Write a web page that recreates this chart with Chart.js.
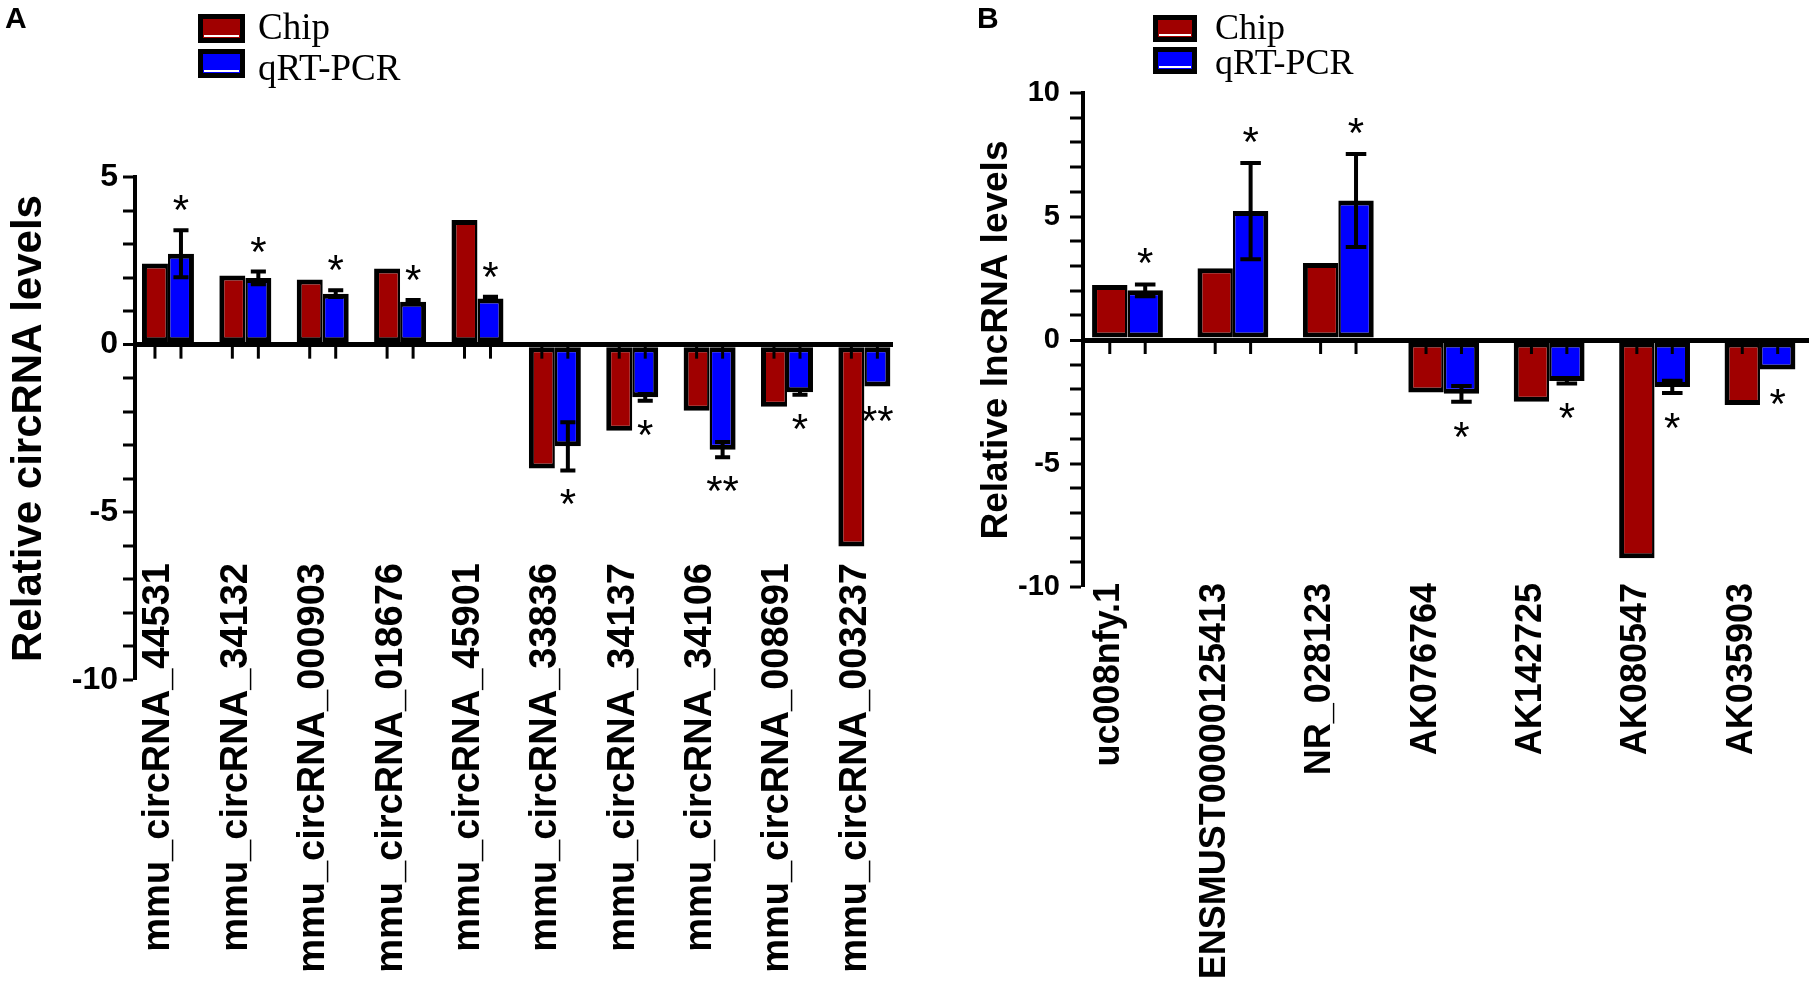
<!DOCTYPE html>
<html>
<head>
<meta charset="utf-8">
<script src="https://cdn.jsdelivr.net/npm/chart.js@4.4.1/dist/chart.umd.min.js"></script>
<style>
  html, body { margin: 0; padding: 0; background: #fff; width: 1814px; height: 987px; overflow: hidden; }
  .panel { position: absolute; top: 0; height: 987px; }
  #wa { left: 0; width: 950px; }
  #wb { left: 950px; width: 864px; }
</style>
</head>
<body>
<div id="wa" class="panel"><canvas id="ca"></canvas></div>
<div id="wb" class="panel"><canvas id="cb"></canvas></div>
<script>
// ---------------- data ----------------
const seriesNames = ['Chip', 'qRT-PCR'];

const circLabels = ['mmu_circRNA_44531', 'mmu_circRNA_34132', 'mmu_circRNA_000903', 'mmu_circRNA_018676',
  'mmu_circRNA_45901', 'mmu_circRNA_33836', 'mmu_circRNA_34137', 'mmu_circRNA_34106',
  'mmu_circRNA_008691', 'mmu_circRNA_003237'];
const circChip = [2.42, 2.06, 1.94, 2.27, 3.72, -3.69, -2.57, -1.97, -1.85, -6.02];
const circQpcr = [2.71, 1.99, 1.52, 1.28, 1.38, -3.03, -1.57, -3.13, -1.42, -1.25];
const circErr  = [0.70, 0.19, 0.10, 0.05, 0.05, 0.72, 0.10, 0.23, 0.07, 0.00];
const circSig  = ['*', '*', '*', '*', '*', '*', '*', '**', '*', '**'];
const circTickLabels = [-10, -5, 0, 5];

const lncLabels = ['uc008nfy.1', 'ENSMUST00000125413', 'NR_028123', 'AK076764', 'AK142725', 'AK080547', 'AK035903'];
const lncChip = [2.23, 2.90, 3.12, -2.13, -2.50, -8.84, -2.63];
const lncQpcr = [2.01, 5.22, 5.65, -2.18, -1.66, -1.90, -1.19];
const lncErr  = [0.24, 1.95, 1.88, 0.32, 0.10, 0.25, 0.00];
const lncSig  = ['*', '*', '*', '*', '*', '*', '*'];
const lncTickLabels = [-10, -5, 0, 5, 10];

// ---------------- styling ----------------
const CHIP_COLOR = '#A00000';
const QPCR_COLOR = '#0000FF';
const SANS = 'Liberation Sans';

const decor = {
  id: 'decor',
  afterDatasetsDraw(chart, args, o) {
    const ctx = chart.ctx;
    const ys = chart.scales.y;
    const y0 = ys.getPixelForValue(0);
    ctx.save();
    ctx.strokeStyle = '#000';
    ctx.lineCap = 'butt';
    // small tick marks at each bar centre below the zero line
    ctx.lineWidth = o.tickW;
    chart.data.datasets.forEach((ds, di) => {
      chart.getDatasetMeta(di).data.forEach(el => {
        ctx.beginPath();
        ctx.moveTo(el.x, y0);
        ctx.lineTo(el.x, y0 + o.tickLen);
        ctx.stroke();
      });
    });
    // error bars and significance marks on the qRT-PCR series
    const meta = chart.getDatasetMeta(1);
    const ds = chart.data.datasets[1];
    meta.data.forEach((el, i) => {
      const v = ds.data[i].y;
      const e = o.errors[i];
      const pHi = ys.getPixelForValue(v + e);
      const pLo = ys.getPixelForValue(v - e);
      const cw = el.width * o.capFrac;
      if (e > 0) {
        ctx.lineWidth = o.errW;
        ctx.beginPath();
        ctx.moveTo(el.x, pHi); ctx.lineTo(el.x, pLo);
        ctx.moveTo(el.x - cw / 2, pHi); ctx.lineTo(el.x + cw / 2, pHi);
        ctx.moveTo(el.x - cw / 2, pLo); ctx.lineTo(el.x + cw / 2, pLo);
        ctx.stroke();
      }
      const center = v >= 0 ? pHi - o.starGap : pLo + o.starGap;
      ctx.font = o.starFont;
      ctx.fillStyle = '#000';
      ctx.textAlign = 'center';
      ctx.textBaseline = 'alphabetic';
      const m = ctx.measureText(o.sig[i]);
      const base = center + (m.actualBoundingBoxAscent - m.actualBoundingBoxDescent) / 2;
      ctx.fillText(o.sig[i], el.x, base);
    });
    ctx.restore();
  },
  afterDraw(chart, args, o) {
    const ctx = chart.ctx;
    ctx.save();
    // panel letter
    ctx.fillStyle = '#000';
    ctx.font = o.letterFont;
    ctx.textAlign = 'left';
    ctx.textBaseline = 'alphabetic';
    ctx.fillText(o.letter, o.letterX, o.letterY);
    // legend
    const L = o.legend;
    chart.data.datasets.forEach((ds, i) => {
      const bx = L.boxX, by = L.boxY[i], bw = L.boxW, bh = L.boxH;
      ctx.fillStyle = '#000';
      ctx.fillRect(bx, by, bw, bh);
      ctx.fillStyle = ds.backgroundColor;
      ctx.fillRect(bx + L.border, by + L.border, bw - 2 * L.border, bh - 2 * L.border);
      ctx.fillStyle = '#fff';
      ctx.fillRect(bx + L.border + 1, by + bh - L.border - 3, bw - 2 * L.border - 2, 2);
      ctx.fillStyle = '#000';
      ctx.font = L.font;
      ctx.fillText(ds.label, L.textX, L.textY[i]);
    });
    ctx.restore();
  }
};

function makeChart(id, c) {
  return new Chart(document.getElementById(id), {
    type: 'bar',
    data: {
      datasets: [
        { label: seriesNames[0], data: c.chip.map((v, i) => ({ x: i, y: v })),
          backgroundColor: CHIP_COLOR, borderColor: '#000',
          borderWidth: { top: 5, right: 2.5, bottom: 5, left: 5 }, borderSkipped: false },
        { label: seriesNames[1], data: c.qpcr.map((v, i) => ({ x: i, y: v })),
          backgroundColor: QPCR_COLOR, borderColor: '#000',
          borderWidth: { top: 5, right: 5, bottom: 5, left: 2.5 }, borderSkipped: false }
      ]
    },
    options: {
      responsive: true,
      maintainAspectRatio: false,
      animation: false,
      layout: { padding: c.pad },
      datasets: { bar: { categoryPercentage: 0.672, barPercentage: 1 } },
      scales: {
        x: {
          type: 'linear', min: c.xMin, max: c.xMax, offset: false,
          position: { y: c.yMin },
          grid: { display: false, drawTicks: false },
          border: { display: false },
          ticks: {
            stepSize: 1, includeBounds: false, autoSkip: false,
            minRotation: 90, maxRotation: 90,
            padding: c.xLabelPad, labelOffset: c.labelOffset, color: '#000',
            font: { family: SANS, weight: 'bold', size: c.xFont },
            callback: v => (Number.isInteger(v) && c.names[v] !== undefined) ? c.names[v] : ''
          }
        },
        y: {
          min: c.yMin, max: c.yMax,
          grid: {
            drawOnChartArea: true, drawTicks: true,
            color: ctx => (ctx.tick && ctx.tick.value === 0) ? '#000' : 'rgba(0,0,0,0)',
            lineWidth: ctx => (ctx.tick && ctx.tick.value === 0) ? 5 : 0,
            tickColor: '#000', tickWidth: 3, tickLength: c.tickLen
          },
          border: { display: true, color: '#000', width: 4 },
          ticks: {
            stepSize: 1, autoSkip: false, padding: c.yPad, color: '#000',
            font: { family: SANS, weight: 'bold', size: c.yFont },
            callback: v => c.shown.includes(v) ? String(v) : ''
          },
          title: {
            display: true, text: c.title, color: '#000',
            font: { family: SANS, weight: 'bold', size: c.titleFont },
            padding: { top: c.titlePad, bottom: 0 }
          },
          afterFit: s => { s.width = c.yWidth; }
        }
      },
      plugins: {
        legend: { display: false },
        tooltip: { enabled: false },
        decor: c.decor
      }
    },
    plugins: [decor]
  });
}

makeChart('ca', {
  names: circLabels, chip: circChip, qpcr: circQpcr, shown: circTickLabels,
  xMin: -0.426, xMax: 9.37, yMin: -10, yMax: 5,
  pad: { top: 177, right: 57, bottom: 307, left: 0 },
  yWidth: 135, xLabelPad: -117, labelOffset: -9, xFont: 38,
  yFont: 32, yPad: 5, tickLen: 12,
  title: 'Relative circRNA levels', titleFont: 42, titlePad: 4,
  decor: {
    errors: circErr, sig: circSig, starFont: '42px "Liberation Sans"', starGap: 27,
    capFrac: 0.58, errW: 4, tickLen: 14, tickW: 3,
    letter: 'A', letterX: 5, letterY: 28, letterFont: 'bold 30px "Liberation Sans"',
    legend: { boxX: 198, boxY: [14, 49], boxW: 47, boxH: 29, border: 5,
              textX: 258, textY: [39, 80], font: '37px "Liberation Serif"' }
  }
});

makeChart('cb', {
  names: lncLabels, chip: lncChip, qpcr: lncQpcr, shown: lncTickLabels,
  xMin: -0.422, xMax: 6.465, yMin: -10, yMax: 10,
  pad: { top: 93, right: 5, bottom: 400, left: 0 },
  yWidth: 133, xLabelPad: -4, labelOffset: -18, xFont: 36,
  yFont: 29, yPad: 10, tickLen: 13,
  title: 'Relative lncRNA levels', titleFont: 37, titlePad: 25,
  decor: {
    errors: lncErr, sig: lncSig, starFont: '42px "Liberation Sans"', starGap: 28,
    capFrac: 0.58, errW: 4, tickLen: 14, tickW: 3,
    letter: 'B', letterX: 27, letterY: 28, letterFont: 'bold 30px "Liberation Sans"',
    legend: { boxX: 203, boxY: [15, 47], boxW: 44, boxH: 27, border: 5,
              textX: 265, textY: [39, 74], font: '36px "Liberation Serif"' }
  }
});
</script>
</body>
</html>
